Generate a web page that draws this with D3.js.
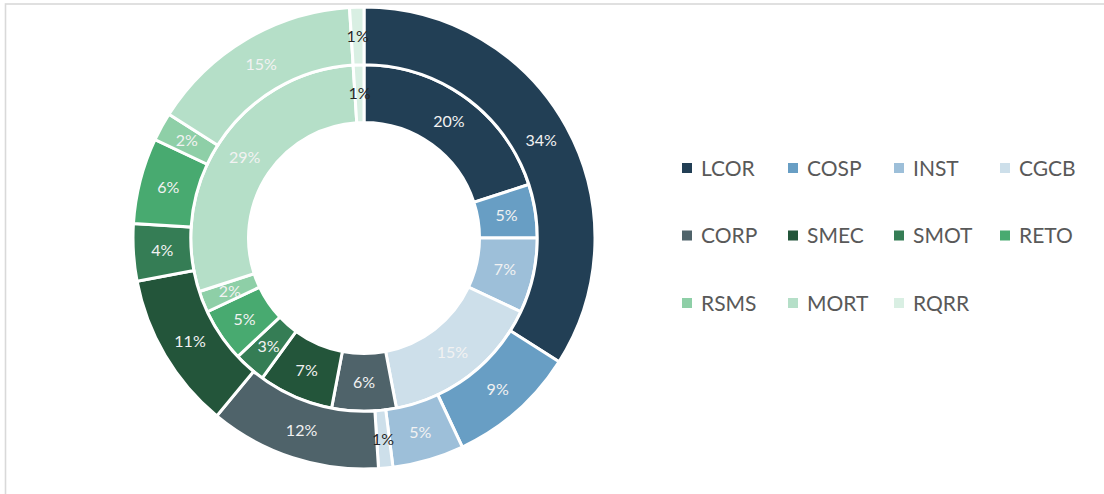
<!DOCTYPE html>
<html>
<head>
<meta charset="utf-8">
<script src="https://cdn.jsdelivr.net/npm/d3@7"></script>
<style>
  body { margin: 0; background: #fff; }
  svg { display: block; }
</style>
</head>
<body>
<div id="chart"></div>
<script>
let categories = ['LCOR', 'COSP', 'INST', 'CGCB', 'CORP', 'SMEC', 'SMOT', 'RETO', 'RSMS', 'MORT', 'RQRR']

// inner ring
let innerValues = [20, 5, 7, 15, 6, 7, 3, 5, 2, 29, 1]

// outer ring
let outerValues = [34, 9, 5, 1, 12, 11, 4, 6, 2, 15, 1]

let colors = ['#223f55', '#689ec4', '#9dbfd9', '#cddfea', '#4f636a', '#23553a', '#357d55', '#48aa70', '#8ecfa7', '#b5dfc8', '#d9efe3']

let width = 1104
let height = 494

let cx = 364
let cy = 238
let outerR = 231
let holeR = 115.5
let midR = (outerR + holeR) / 2

let svg = d3
  .select('#chart')
  .append('svg')
  .attr('width', width)
  .attr('height', height)

// chart frame
svg
  .append('rect')
  .attr('x', 5.5)
  .attr('y', 4)
  .attr('width', width + 10)
  .attr('height', height + 10)
  .attr('fill', 'none')
  .attr('stroke', '#d9d9d9')
  .attr('stroke-width', 1.6)

let colorScale = d3.scaleOrdinal().domain(categories).range(colors)

let pie = d3.pie().sort(null).value(d => d.value)

let g = svg.append('g').attr('transform', 'translate(' + cx + ',' + cy + ')')

function drawRing(values, r0, r1) {
  let data = categories.map((c, i) => ({ name: c, value: values[i] }))
  let arc = d3.arc().innerRadius(r0).outerRadius(r1)
  let ring = g.append('g')

  ring
    .selectAll('path')
    .data(pie(data))
    .enter()
    .append('path')
    .attr('d', arc)
    .attr('fill', d => colorScale(d.data.name))
    .attr('stroke', '#fff')
    .attr('stroke-width', 3)
    .attr('stroke-linejoin', 'miter')

  ring
    .selectAll('text')
    .data(pie(data))
    .enter()
    .append('text')
    .attr('transform', d => 'translate(' + arc.centroid(d) + ')')
    .attr('text-anchor', 'middle')
    .attr('dy', '0.36em')
    .attr('font-family', 'Lato, "Open Sans", sans-serif')
    .attr('font-size', 16)
    .attr('fill', d => (d.data.value <= 1 ? '#262626' : '#f2f2f2'))
    .text(d => d.data.value + '%')
}

drawRing(innerValues, holeR, midR)
drawRing(outerValues, midR, outerR)

// legend
let legendX = d3.scaleBand().domain(d3.range(4)).range([682, 1106])
let legendY = d3.scalePoint().domain(d3.range(3)).range([168, 303])

let legend = svg
  .selectAll('.legend')
  .data(categories)
  .enter()
  .append('g')
  .attr('class', 'legend')
  .attr('transform', (d, i) => 'translate(' + legendX(i % 4) + ',' + legendY(Math.floor(i / 4)) + ')')

legend
  .append('rect')
  .attr('x', 0)
  .attr('y', -5)
  .attr('width', 10)
  .attr('height', 10)
  .attr('fill', d => colorScale(d))

legend
  .append('text')
  .attr('x', 19)
  .attr('dy', '0.36em')
  .attr('font-family', 'Lato, "Open Sans", sans-serif')
  .attr('font-size', 21)
  .attr('fill', '#595959')
  .text(d => d)
</script>
</body>
</html>
